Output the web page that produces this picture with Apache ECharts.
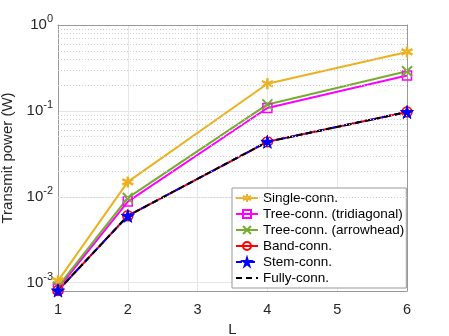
<!DOCTYPE html>
<html>
<head>
<meta charset="utf-8">
<script src="https://cdn.jsdelivr.net/npm/echarts@6/dist/echarts.min.js"></script>
<style>
  html, body { margin: 0; padding: 0; background: #fff; }
  #chart { width: 449px; height: 336px; }
</style>
</head>
<body>
<div id="chart"></div>
<script>
// data
const L = [1, 2, 4, 6];
const singleConn = [0.00105, 0.0149, 0.207, 0.485];
const treeTri = [0.00085, 0.0088, 0.108, 0.258];
const treeArrow = [0.0009, 0.0097, 0.119, 0.29];
const bandConn = [0.00081, 0.0060, 0.0437, 0.097];
const stemConn = [0.00081, 0.0060, 0.0437, 0.097];
const fullyConn = [0.00081, 0.0060, 0.0437, 0.097];
const minorGrid = [0.0009, 0.002, 0.003, 0.004, 0.005, 0.006, 0.007, 0.008, 0.009,
  0.02, 0.03, 0.04, 0.05, 0.06, 0.07, 0.08, 0.09,
  0.2, 0.3, 0.4, 0.5, 0.6, 0.7, 0.8, 0.9];
const yTickExp = { '0.001': '-3', '0.01': '-2', '0.1': '-1', '1': '0' };

const font = 'Liberation Sans, Arial, sans-serif';
const asterisk = 'path://M5 0L5 10M0.7 2.5L9.3 7.5M0.7 7.5L9.3 2.5';
const cross = 'path://M0 0L10 10M10 0L0 10';
const star = 'path://M50 0L61 35L98 35L68 57L79 91L50 70L21 91L32 57L2 35L39 35Z';

const pts = (ys) => L.map((x, i) => [x, ys[i]]);

const chart = echarts.init(document.getElementById('chart'));
chart.setOption({
  animation: false,
  textStyle: { fontFamily: font },
  grid: { left: 58, right: 42, top: 25, bottom: 45, outerBoundsMode: 'none', containLabel: false },
  xAxis: [{
    type: 'value', min: 1, max: 6, interval: 1,
    name: 'L', nameLocation: 'middle', nameGap: 24,
    nameTextStyle: { fontSize: 15, color: '#262626', fontFamily: font },
    axisLine: { lineStyle: { color: '#999' } },
    axisTick: { show: false },
    axisLabel: { fontSize: 14.5, color: '#262626', margin: 11 },
    splitLine: { show: true, lineStyle: { color: '#e6e6e6' } }
  }, {
    type: 'value', min: 1, max: 6, interval: 1, position: 'top',
    axisLine: { show: true, lineStyle: { color: '#999' } },
    axisTick: { show: false }, axisLabel: { show: false }, splitLine: { show: false }
  }],
  yAxis: [{
    type: 'log', min: 0.0008, max: 1, logBase: 10,
    name: 'Transmit power (W)', nameLocation: 'middle', nameGap: 31,
    nameTextStyle: { fontSize: 15, color: '#262626', fontFamily: font },
    axisLine: { show: true, lineStyle: { color: '#999' } },
    axisTick: { show: false },
    axisLabel: {
      color: '#262626', margin: 5,
      formatter: (v) => {
        const k = String(+v.toPrecision(6));
        return yTickExp[k] ? '{b|10}{s|' + yTickExp[k] + '}' : '';
      },
      rich: {
        b: { fontSize: 15, color: '#262626', fontFamily: font },
        s: { fontSize: 11, color: '#262626', fontFamily: font, padding: [0, 0, 12, 0] }
      }
    },
    splitLine: { show: true, lineStyle: { color: '#e6e6e6' } }
  }, {
    type: 'log', min: 0.0008, max: 1, position: 'right',
    axisLine: { show: true, lineStyle: { color: '#999' } },
    axisTick: { show: false }, axisLabel: { show: false }, splitLine: { show: false }
  }],
  legend: {
    orient: 'vertical', left: 232, top: 188,
    backgroundColor: '#fff', borderColor: '#999', borderWidth: 1,
    padding: [3, 2, 3, 3], itemGap: 2, itemWidth: 22, itemHeight: 10,
    textStyle: { fontSize: 13.5, color: '#000', fontFamily: font },
    data: ['Single-conn.', 'Tree-conn. (tridiagonal)', 'Tree-conn. (arrowhead)',
      'Band-conn.', 'Stem-conn.', 'Fully-conn.']
  },
  series: [
    {
      name: 'Single-conn.', type: 'line', data: pts(singleConn),
      symbol: asterisk, symbolSize: 11,
      lineStyle: { color: '#EDB120', width: 2 },
      itemStyle: { color: 'rgba(0,0,0,0)', borderColor: '#EDB120', borderWidth: 2.5 },
      markLine: {
        silent: true, symbol: ['none', 'none'], label: { show: false },
        lineStyle: { color: '#d0d0d0', type: [1, 2], width: 1 },
        data: minorGrid.map((v) => ({ yAxis: v }))
      }
    },
    {
      name: 'Tree-conn. (tridiagonal)', type: 'line', data: pts(treeTri),
      symbol: 'rect', symbolSize: 9,
      lineStyle: { color: '#FF00FF', width: 2 },
      itemStyle: { color: 'rgba(0,0,0,0)', borderColor: '#FF00FF', borderWidth: 1.5 }
    },
    {
      name: 'Tree-conn. (arrowhead)', type: 'line', data: pts(treeArrow),
      symbol: cross, symbolSize: 10,
      lineStyle: { color: '#77AC30', width: 2 },
      itemStyle: { color: 'rgba(0,0,0,0)', borderColor: '#77AC30', borderWidth: 2 }
    },
    {
      name: 'Band-conn.', type: 'line', data: pts(bandConn),
      symbol: 'circle', symbolSize: 10,
      lineStyle: { color: '#FF0000', width: 2 },
      itemStyle: { color: 'rgba(0,0,0,0)', borderColor: '#FF0000', borderWidth: 1.5 }
    },
    {
      name: 'Stem-conn.', type: 'line', data: pts(stemConn),
      symbol: star, symbolSize: 13,
      lineStyle: { color: '#0000FF', width: 2, type: [6, 3, 1, 3] },
      itemStyle: { color: '#0000FF', borderColor: '#0000FF', borderWidth: 1 }
    },
    {
      name: 'Fully-conn.', type: 'line', data: pts(fullyConn),
      symbol: 'circle', showSymbol: false,
      lineStyle: { color: '#000', width: 2, type: [6, 4] },
      itemStyle: { color: 'rgba(0,0,0,0)', borderWidth: 0 }
    }
  ]
});
</script>
</body>
</html>
